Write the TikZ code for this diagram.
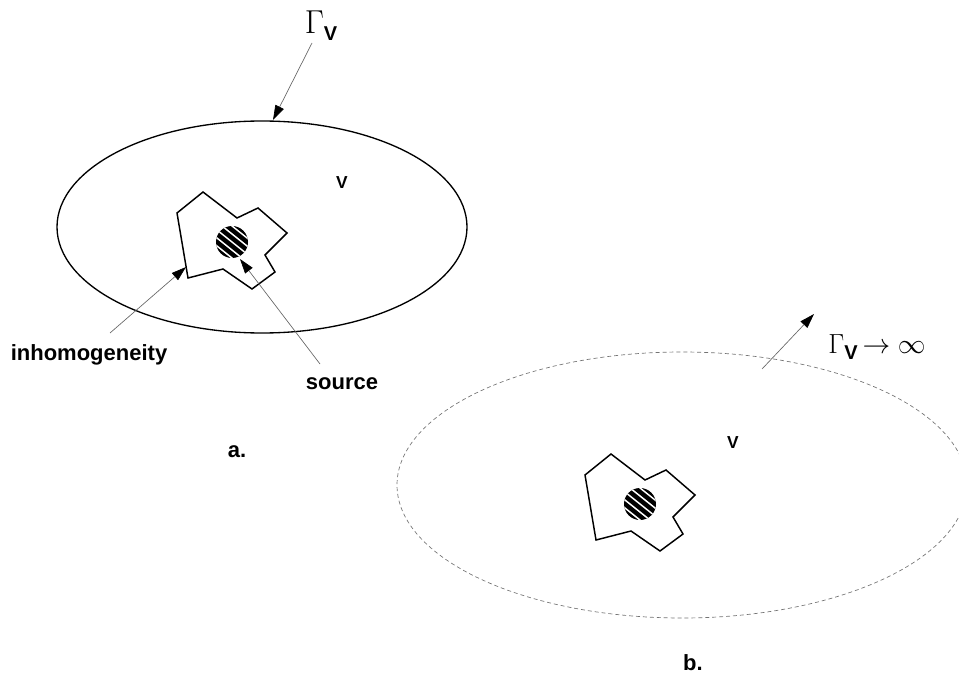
\documentclass[tikz,border=0pt]{standalone}
\usepackage{fontspec}
\setmainfont{Liberation Sans}
\usetikzlibrary{arrows.meta}
\tikzset{
  poly/.style={draw=black, line width=1.1pt, line join=miter},
  ptr/.style={draw=black!60, line width=0.5pt, -{Triangle[length=11pt,width=7pt,color=black,fill=black]}},
  lab/.style={font=\bfseries\fontsize{16.5}{19}\selectfont, inner sep=0pt},
  vlab/.style={font=\bfseries\fontsize{13}{15}\selectfont, inner sep=0pt},
  gam/.style={font=\fontsize{23}{26}\selectfont, inner sep=0pt},
  gamb/.style={font=\fontsize{22}{25}\selectfont, inner sep=0pt},
}
\newcommand{\gv}{$\Gamma$\raisebox{-5pt}{\bfseries\fontsize{15}{15}\selectfont V}}
\newcommand{\inhom}{(177,213) -- (203,192) -- (237,218) -- (258,208) -- (287,233) -- (265,255) -- (275,272) -- (252,289) -- (223,269) -- (188,278) -- cycle}
\newcommand{\srcdisk}[1]{%
  \begin{scope}[shift={#1}]
    \fill[black] (0,0) circle[radius=16];
    \begin{scope}
      \clip (0,0) circle[radius=16];
      \foreach \k in {-3,...,3}
        \draw[white, line width=1.1pt] ({\k*3.9-30},{-\k*4.9-24}) -- ++(60,48);
    \end{scope}
  \end{scope}}
\begin{document}
\begin{tikzpicture}[x=0.75pt,y=-0.75pt]
\useasboundingbox (0,0) rectangle (959,684);
% ---------- a ----------
\draw[line width=1pt] (262,227) ellipse [x radius=205, y radius=106];
\draw[poly] \inhom;
\srcdisk{(232,242)}
\node[gam] (g1) at (321,26) {\gv};
\coordinate (g1s) at (312,43);
\coordinate (g1t) at (273,120);
\draw[ptr] (g1s) -- (g1t);
\node[vlab] (v1) at (342,183) {V};
\node[lab] (inh) at (89,355) {inhomogeneity};
\coordinate (inhs) at (110,333);
\coordinate (inht) at (186,267);
\draw[ptr] (inhs) -- (inht);
\node[lab] (src) at (342,384) {source};
\coordinate (srcs) at (320,364);
\coordinate (srct) at (240,259);
\draw[ptr] (srcs) -- (srct);
\node[lab] (a) at (237,452) {a.};
% ---------- b ----------
\draw[black!55, dashed, dash pattern=on 3pt off 2.2pt, line width=0.5pt] (682,485) ellipse [x radius=285, y radius=133];
\begin{scope}[shift={(408,262)}]
\draw[poly] \inhom;
\end{scope}
\srcdisk{(640,504)}
\node[gamb] (g2) at (877,347) {\gv\,$\rightarrow\infty$};
\coordinate (g2s) at (762,369);
\coordinate (g2t) at (814,314);
\draw[ptr] (g2s) -- (g2t);
\node[vlab] (v2) at (733,443) {V};
\node[lab] (b) at (693,663) {b.};
\end{tikzpicture}
\end{document}
